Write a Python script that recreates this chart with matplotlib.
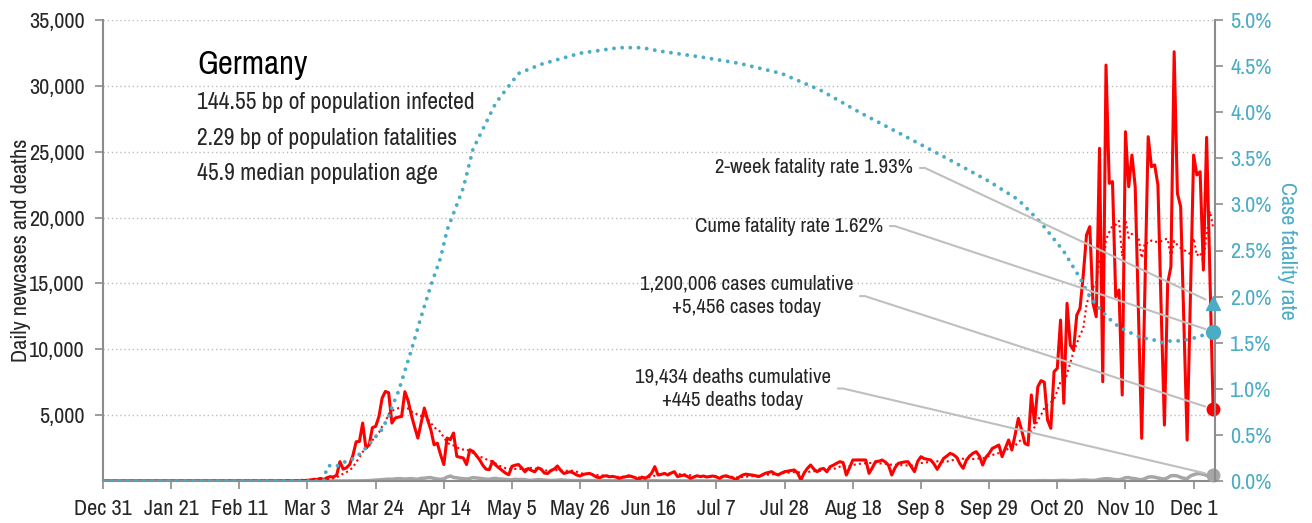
import matplotlib
matplotlib.use("Agg")
import numpy as np
import pandas as pd
import matplotlib.pyplot as plt
from matplotlib import font_manager
from matplotlib.ticker import FuncFormatter

names = sorted({f.name for f in font_manager.fontManager.ttflist})
narrow = [n for n in names if 'Narrow' in n or 'Condensed' in n]
plt.rcParams['font.family'] = narrow[:1] + ['Roboto', 'DejaVu Sans']

START = "2019-12-31"

# daily new cases, Dec 31 2019 .. Dec 7 2020
cases_dec_feb = [0] * 28 + [4, 0, 0, 1, 3, 0, 1, 2, 1, 0, 0, 1, 0, 0, 0, 0, 0, 0, 0, 0, 0, 0,
                            0, 0, 0, 0, 2, 4, 6, 20, 5, 10, 15]
cases_mar = [50, 30, 60, 80, 130, 120, 200, 120, 250, 330, 300, 450, 1470, 900, 1000, 1250,
             1950, 2980, 3000, 4400, 2500, 2750, 4050, 4150, 4880, 6300, 6800, 6700, 4400,
             4780, 4850]
cases_apr = [4900, 6780, 6100, 5000, 4100, 3260, 4400, 5540, 4650, 3900, 2750, 2870, 2000,
             1250, 3260, 3140, 3640, 1870, 1800, 1750, 1250, 2370, 2250, 1950, 1620, 1200,
             900, 860, 1490, 1200]
cases_may = [990, 800, 600, 480, 1120, 1200, 1250, 1000, 700, 950, 800, 700, 1000, 900, 600,
             570, 800, 900, 1140, 800, 570, 650, 700, 600, 450, 380, 500, 550, 570, 450, 300]
cases_jun = [250, 350, 400, 320, 350, 300, 200, 280, 320, 400, 330, 250, 80, 300, 200, 350,
             580, 1090, 456, 500, 580, 456, 600, 709, 329, 400, 456, 350, 203, 300]
cases_jul = [400, 330, 380, 300, 350, 380, 300, 200, 350, 400, 300, 250, 80, 300, 450, 520,
             480, 456, 400, 330, 450, 582, 650, 709, 550, 456, 600, 709, 750, 800, 835]
cases_aug = [600, 80, 600, 960, 1215, 900, 709, 900, 950, 700, 1088, 1200, 1341, 1468, 1400,
             455, 1000, 1594, 1600, 1600, 1600, 1594, 582, 1000, 1468, 1500, 1594, 1450, 1200,
             455, 1000]
cases_sep = [1341, 1400, 1450, 1468, 1100, 709, 1500, 1848, 1700, 1650, 1594, 1300, 886, 1300,
             1721, 1900, 2100, 2000, 1800, 1300, 962, 1594, 1900, 2100, 2227, 1900, 1215, 1800,
             2100, 2480]
cases_oct = [2600, 2733, 1848, 2500, 3113, 2353, 3500, 4757, 3872, 2860, 2730, 6530, 4400, 7160,
             7620, 7500, 4630, 4000, 8300, 8554, 12220, 5900, 13490, 10325, 9945, 12600, 13110,
             15640, 18680, 19310, 13490]
cases_nov = [12470, 25260, 7540, 31580, 22600, 22730, 14000, 14500, 6530, 26520, 22340, 24750,
             22340, 12800, 3240, 14700, 26140, 23860, 24000, 22470, 13000, 4250, 15010, 16270,
             32590, 21840, 20830, 12000, 3110, 14000]
cases_dec = [24750, 23230, 23480, 16020, 26090, 15800, 5456]

# daily deaths
deaths_dec_feb = [0] * 61
deaths_mar = [0] * 8 + [2, 0, 0, 1, 0, 4, 1, 3, 4, 8, 11, 20, 22, 31, 50, 62, 80, 100, 120, 140,
                        130, 160, 180]
deaths_apr = [170, 140, 170, 180, 150, 130, 200, 210, 250, 260, 190, 150, 130, 160, 300, 380,
              270, 240, 200, 180, 150, 190, 260, 230, 210, 170, 140, 130, 180, 200]
deaths_may = [150, 140, 120, 100, 90, 130, 110, 120, 100, 60, 50, 80, 110, 90, 70, 60, 40, 50,
              60, 90, 70, 50, 40, 30, 35, 45, 40, 35, 30, 20, 25]
deaths_jun = [30, 25, 20, 20, 15, 25, 10, 10, 20, 15, 18, 15, 10, 8, 5, 10, 15, 20, 10, 8, 5,
              10, 15, 12, 10, 8, 5, 10, 12, 8]
deaths_jul = [10, 12, 8, 5, 3, 5, 10, 12, 8, 6, 4, 3, 5, 10, 8, 6, 5, 3, 2, 5, 8, 6, 7, 4, 3, 2,
              5, 8, 6, 7, 5]
deaths_aug = [6, 4, 3, 2, 5, 8, 6, 5, 3, 2, 4, 8, 6, 5, 4, 3, 2, 5, 6, 8, 7, 5, 3, 2, 4, 6, 5,
              8, 3, 2, 5]
deaths_sep = [6, 5, 8, 4, 3, 2, 6, 8, 10, 7, 5, 4, 6, 8, 12, 10, 7, 5, 4, 8, 12, 10, 8, 6, 5, 9,
              12, 15, 10, 8]
deaths_oct = [12, 15, 10, 8, 6, 12, 16, 20, 18, 15, 10, 8, 14, 20, 25, 30, 22, 15, 18, 30, 40,
              45, 35, 25, 30, 50, 60, 80, 70, 50, 40]
deaths_nov = [60, 120, 150, 180, 170, 130, 100, 90, 150, 250, 260, 200, 180, 120, 100, 180, 300,
              320, 290, 230, 180, 150, 250, 400, 410, 380, 280, 200, 180, 380]
deaths_dec = [480, 550, 560, 500, 420, 300, 445]

# cumulative case fatality rate (%)
cfr_dates = ["2019-12-31", "2020-03-08", "2020-03-09", "2020-03-10", "2020-03-12", "2020-03-14",
             "2020-03-17", "2020-03-19", "2020-03-21", "2020-03-23", "2020-03-26", "2020-03-28",
             "2020-03-29", "2020-03-31", "2020-04-01", "2020-04-04", "2020-04-07", "2020-04-10",
             "2020-04-13", "2020-04-15", "2020-04-20", "2020-04-22", "2020-04-23", "2020-04-30",
             "2020-05-07", "2020-05-14", "2020-05-26", "2020-06-07", "2020-06-14", "2020-06-20",
             "2020-07-02", "2020-07-14", "2020-07-27", "2020-08-08", "2020-08-20", "2020-09-02",
             "2020-09-17", "2020-09-29", "2020-10-08", "2020-10-15", "2020-10-22", "2020-10-27",
             "2020-10-30", "2020-11-02", "2020-11-05", "2020-11-08", "2020-11-12", "2020-11-15",
             "2020-11-18", "2020-11-21", "2020-11-24", "2020-11-27", "2020-11-30", "2020-12-03",
             "2020-12-07"]
cfr_pct = [0.0, 0.0, 0.15, 0.17, 0.16, 0.20, 0.24, 0.29, 0.36, 0.44, 0.56, 0.70, 0.80, 0.97,
           1.08, 1.42, 1.78, 2.12, 2.42, 2.72, 3.18, 3.46, 3.60, 4.10, 4.42, 4.52, 4.64, 4.70,
           4.70, 4.66, 4.60, 4.53, 4.42, 4.24, 4.00, 3.76, 3.48, 3.25, 3.05, 2.80, 2.49, 2.20,
           2.00, 1.87, 1.76, 1.67, 1.60, 1.55, 1.54, 1.50, 1.52, 1.52, 1.54, 1.57, 1.62]

country = "Germany"
bp_infected = 144.55
bp_fatalities = 2.29
median_age = 45.9
cum_cases = 1200006
today_cases = 5456
cum_deaths = 19434
today_deaths = 445
two_week_rate = 1.93
cume_rate = 1.62

cases = (cases_dec_feb + cases_mar + cases_apr + cases_may + cases_jun + cases_jul
         + cases_aug + cases_sep + cases_oct + cases_nov + cases_dec)
deaths = (deaths_dec_feb + deaths_mar + deaths_apr + deaths_may + deaths_jun + deaths_jul
          + deaths_aug + deaths_sep + deaths_oct + deaths_nov + deaths_dec)
dates = pd.date_range(START, periods=len(cases))
avg7 = pd.Series(cases).rolling(7, min_periods=1).mean()
cfr_x = pd.to_datetime(cfr_dates)
cfr = np.array(cfr_pct) / 100

RED = '#ff0000'
TEAL = '#4bacc6'
GREY = '#a6a6a6'
SPINE = '#8c8c8c'
TXT = '#262626'

# text sizes: condensed font if present, otherwise scaled down
if narrow:
    FS_TICK, FS_ANN, FS_STAT, FS_TITLE, FS_LAB = 16, 15, 17, 23.5, 16
else:
    FS_TICK, FS_ANN, FS_STAT, FS_TITLE, FS_LAB = 14, 12.6, 14, 19.5, 14

fig = plt.figure(figsize=(13.12, 5.23), dpi=100, facecolor='white')
ax = fig.add_axes([103 / 1312, 42 / 523, 1112 / 1312, 461 / 523])
ax2 = ax.twinx()

ax.plot(dates, deaths, color=GREY, lw=2.5, solid_joinstyle='round')
ax.plot(dates, avg7, color=RED, lw=1.5, linestyle=(0, (1, 1.5)))
ax.plot(dates, cases, color=RED, lw=2.2, solid_joinstyle='round')
ax.plot(dates[-1], cases[-1], 'o', color=RED, ms=9, clip_on=False, zorder=5)
ax.plot(dates[-1], deaths[-1], 'o', color=GREY, ms=9, clip_on=False, zorder=5)

ax2.plot(cfr_x, cfr, color=TEAL, lw=2.8, linestyle=(0, (0.01, 2.1)), dash_capstyle='round')
ax2.plot(dates[-1], two_week_rate / 100, '^', color=TEAL, ms=10, clip_on=False, zorder=5)
ax2.plot(dates[-1], cume_rate / 100, 'o', color=TEAL, ms=10, clip_on=False, zorder=5)

ax.set_xlim(dates[0], dates[-1] + pd.Timedelta(hours=14))
ax.set_ylim(0, 35000)
ax2.set_ylim(0, 0.05)

ax.set_yticks(np.arange(5000, 35001, 5000))
ax.yaxis.set_major_formatter(FuncFormatter(lambda v, p: f"{v:,.0f}"))
ax2.set_yticks(np.arange(0, 0.0501, 0.005))
ax2.yaxis.set_major_formatter(FuncFormatter(lambda v, p: f"{v * 100:.1f}%"))
ax.set_xticks(dates[::21])
ax.set_xticklabels([f"{d:%b} {d.day}" for d in dates[::21]])

ax.grid(axis='y', linestyle=(0, (1, 2)), color='#bdbdbd', lw=1)
ax.set_axisbelow(True)

for a in (ax, ax2):
    a.spines['top'].set_visible(False)
    for s in ('left', 'right', 'bottom'):
        a.spines[s].set_color(SPINE)
        a.spines[s].set_linewidth(1.5)
ax.spines['right'].set_visible(False)
ax2.spines['left'].set_visible(False)
ax2.spines['bottom'].set_visible(False)

ax.tick_params(axis='y', length=6, width=1.2, color=SPINE, labelsize=FS_TICK, labelcolor=TXT, pad=7)
ax.tick_params(axis='x', length=6, width=1.2, color=SPINE, labelsize=FS_TICK, labelcolor=TXT, pad=7)
ax2.tick_params(axis='y', length=6, width=1.2, color=SPINE, labelsize=FS_TICK, labelcolor=TEAL, pad=5)

ax.set_ylabel("Daily newcases and deaths", fontsize=FS_LAB, color=TXT, labelpad=-1)
ax2.set_ylabel("Case fatality rate", fontsize=FS_LAB, color=TEAL, rotation=-90, labelpad=18)

ax.text(0.0845, 0.902, country, transform=ax.transAxes, fontsize=FS_TITLE, color='black',
        ha='left', va='center')
stats = [f"{bp_infected:.2f} bp of population infected",
         f"{bp_fatalities:.2f} bp of population fatalities",
         f"{median_age:.1f} median population age"]
for i, line in enumerate(stats):
    ax.text(0.0845, 0.820 - i * 0.076, line, transform=ax.transAxes, fontsize=FS_STAT,
            color=TXT, ha='left', va='center')

leader = dict(arrowstyle='-', color='#bfbfbf', lw=1.5, shrinkA=3, shrinkB=6,
              relpos=(1, 0.5), connectionstyle='arc,angleA=0,armA=12,angleB=0,armB=0,rad=0')
ax2.annotate(f"2-week fatality rate {two_week_rate:.2f}%", xy=(dates[-1], two_week_rate / 100),
             xytext=(0.7284, 0.679), textcoords='axes fraction', ha='right', va='center',
             fontsize=FS_ANN, color=TXT, arrowprops=leader)
ax2.annotate(f"Cume fatality rate {cume_rate:.2f}%", xy=(dates[-1], cume_rate / 100),
             xytext=(0.7014, 0.553), textcoords='axes fraction', ha='right', va='center',
             fontsize=FS_ANN, color=TXT, arrowprops=leader)
ax.annotate(f"{cum_cases:,} cases cumulative\n+{today_cases:,} cases today",
            xy=(dates[-1], cases[-1]), xytext=(0.5785, 0.401), textcoords='axes fraction',
            ha='center', va='center', multialignment='center', fontsize=FS_ANN, color=TXT,
            linespacing=1.3, arrowprops=leader)
ax.annotate(f"{cum_deaths:,} deaths cumulative\n+{today_deaths:,} deaths today",
            xy=(dates[-1], deaths[-1]), xytext=(0.5665, 0.2007), textcoords='axes fraction',
            ha='center', va='center', multialignment='center', fontsize=FS_ANN, color=TXT,
            linespacing=1.3, arrowprops=leader)

fig.savefig("out.png", dpi=100, facecolor='white')
